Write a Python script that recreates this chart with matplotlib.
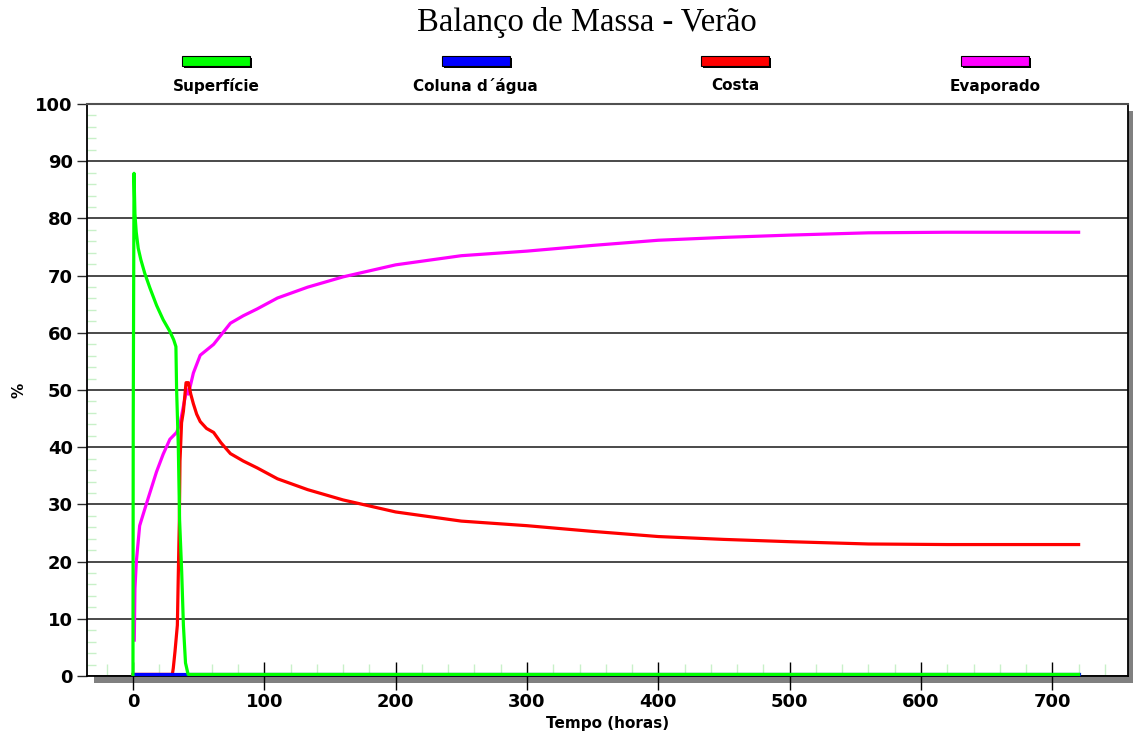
import matplotlib
matplotlib.use("Agg")
import matplotlib.pyplot as plt
from matplotlib.patches import Rectangle
from matplotlib.ticker import MultipleLocator
from matplotlib.transforms import offset_copy

# ---- data -------------------------------------------------------------
series_names = ["Superfície", "Coluna d´água", "Costa", "Evaporado"]
series_colors = ["#00ff00", "#0000ff", "#ff0000", "#ff00ff"]

t_superficie = [0, 0.2, 0.8, 1.5, 2.5, 4, 6, 9, 13, 18, 23, 28, 31, 32.7,
                33.2, 34.5, 35.5, 37.1, 38.4, 40, 42, 720]
v_superficie = [0, 44, 87.6, 80.5, 77.3, 74.5, 72.5, 70.1, 67.5, 64.5, 62,
                60, 58.5, 57.3, 50, 40, 27, 17.9, 8.6, 2, 0, 0]

t_coluna = [0, 720]
v_coluna = [0, 0]

t_costa = [0, 30, 30.7, 32, 33.8, 34.5, 35.3, 35.8, 36.3, 37, 38.4, 40.4,
           42.2, 44, 46, 48.5, 51.2, 56, 61.4, 67, 74.2, 84, 94.6, 110, 133,
           160, 200, 250, 300, 350, 400, 450, 500, 560, 620, 720]
v_costa = [0, 0, 1.1, 4, 8.6, 17.3, 26.7, 37.3, 40, 44, 46, 51, 51, 49, 47.3,
           45.5, 44.2, 43, 42.3, 40.5, 38.6, 37.3, 36.1, 34.2, 32.3, 30.5,
           28.4, 26.8, 26, 25, 24.1, 23.6, 23.2, 22.8, 22.7, 22.7]

t_evaporado = [1, 1.5, 2.6, 5.1, 10.2, 17.9, 23, 28.1, 33.2, 36, 38.5, 40.9,
               42.2, 46, 51.2, 61.4, 74.2, 84, 94.6, 110, 133, 160, 200, 250,
               300, 350, 400, 450, 500, 560, 620, 720]
v_evaporado = [6, 15, 19.8, 26, 29.8, 35.4, 38.5, 41.1, 42.3, 44, 47, 49.8,
               49, 52.7, 55.8, 57.7, 61.4, 62.7, 63.9, 65.8, 67.7, 69.5, 71.6,
               73.2, 74, 75, 75.9, 76.4, 76.8, 77.2, 77.3, 77.3]

x_ticks = [0, 100, 200, 300, 400, 500, 600, 700]
y_ticks = [0, 10, 20, 30, 40, 50, 60, 70, 80, 90, 100]

# ---- figure -----------------------------------------------------------
W, H = 1133, 742
fig = plt.figure(figsize=(W / 100, H / 100), dpi=100)
fig.patch.set_facecolor("white")

left_px, right_px, top_px, bottom_px = 87, 1128, 104, 676
ax = fig.add_axes([left_px / W, 1 - bottom_px / H,
                   (right_px - left_px) / W, (bottom_px - top_px) / H])
ax.set_facecolor("white")

# drop shadow behind the plotting frame
shadow_off = 7
fig.patches.append(Rectangle(((left_px + shadow_off) / W, 1 - (bottom_px + shadow_off) / H),
                             (right_px - left_px) / W, (bottom_px - top_px) / H,
                             transform=fig.transFigure, facecolor="#808080",
                             edgecolor="none", zorder=-1))

# curves sit just above the axis line, so lift them by a pixel and a half
lifted = offset_copy(ax.transData, fig=fig, x=0, y=1.6, units="dots")

lw = 2.3
ax.plot(t_evaporado, v_evaporado, color=series_colors[3], lw=lw, zorder=3,
        transform=lifted, clip_on=False)
ax.plot(t_costa, v_costa, color=series_colors[2], lw=lw, zorder=4,
        transform=lifted, clip_on=False)
ax.plot(t_coluna, v_coluna, color=series_colors[1], lw=lw, zorder=5,
        transform=lifted, clip_on=False)
ax.plot(t_superficie, v_superficie, color=series_colors[0], lw=lw, zorder=6,
        transform=lifted, clip_on=False)

ax.set_xlim(-35, 757.6)
ax.set_ylim(0, 100)

ax.set_xticks(x_ticks)
ax.set_yticks(y_ticks)
ax.xaxis.set_minor_locator(MultipleLocator(20))
ax.yaxis.set_minor_locator(MultipleLocator(2))

ax.yaxis.grid(True, which="major", color="#2a2a2a", lw=1.2, zorder=1)
ax.set_axisbelow(True)

tick_font = dict(family="DejaVu Sans", weight="bold", size=13)
ax.set_xticklabels([str(v) for v in x_ticks], **tick_font)
ax.set_yticklabels([str(v) for v in y_ticks], **tick_font)

ax.tick_params(axis="x", which="major", direction="inout", length=20,
               width=1, color="black", pad=2)
ax.tick_params(axis="y", which="major", direction="out", length=7.2,
               width=1, color="#2a2a2a", pad=3)
ax.tick_params(axis="x", which="minor", direction="in", length=8.6,
               width=1, color="#c8f0c8")
ax.tick_params(axis="y", which="minor", direction="in", length=6.8,
               width=1, color="#c8f0c8")

for side in ("left", "bottom", "right"):
    ax.spines[side].set_color("black")
    ax.spines[side].set_linewidth(1.3)
ax.spines["top"].set_color("#505050")
ax.spines["top"].set_linewidth(1.5)

ax.set_xlabel("Tempo (horas)", family="DejaVu Sans", weight="bold",
              size=11, labelpad=4)
ax.set_ylabel("%", family="DejaVu Sans", weight="bold", size=11,
              labelpad=6)

fig.text(587 / W, 1 - 22 / H, "Balanço de Massa - Verão",
         family="Liberation Serif", size=23.5, ha="center", va="center")

# legend: raised colour bars with captions underneath
bar_w, bar_h = 68, 10
centers = [216, 475.5, 735, 995]
for name, color, cx in zip(series_names, series_colors, centers):
    x0 = cx - bar_w / 2
    y_top = 56
    fig.patches.append(Rectangle(((x0 + 2) / W, 1 - (y_top + bar_h + 2) / H),
                                 bar_w / W, bar_h / H,
                                 transform=fig.transFigure,
                                 facecolor="black", edgecolor="none"))
    fig.patches.append(Rectangle((x0 / W, 1 - (y_top + bar_h) / H),
                                 bar_w / W, bar_h / H,
                                 transform=fig.transFigure,
                                 facecolor=color, edgecolor="black", lw=0.8))
    fig.text(cx / W, 1 - 90.5 / H, name, family="DejaVu Sans", weight="bold",
             size=11, ha="center", va="baseline")

fig.savefig("out.png", dpi=100, facecolor="white")
